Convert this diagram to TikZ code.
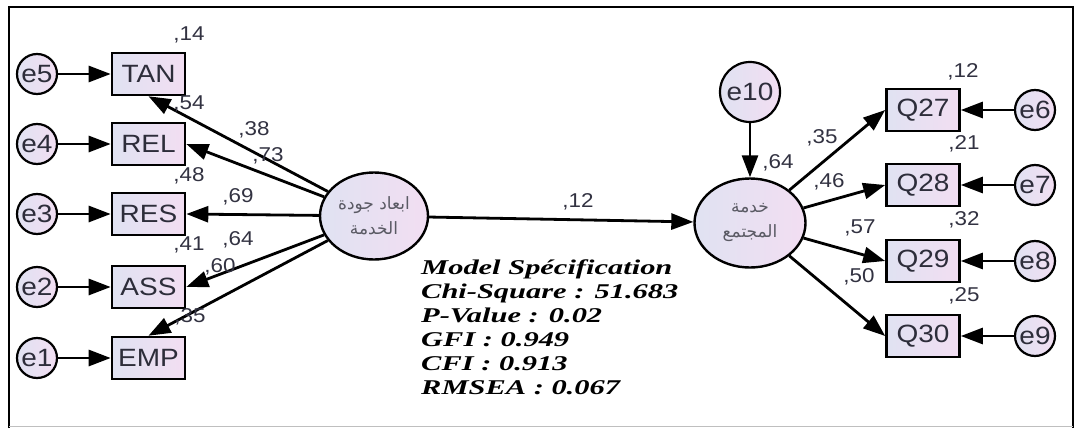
\documentclass[tikz,border=0pt]{standalone}
\usepackage{fontspec}
\setmainfont[FakeStretch=1.12]{Liberation Sans}
\newfontfamily\arabicfont[Script=Arabic]{DejaVu Sans}
\newfontfamily\modelfont[FakeStretch=1.45]{Liberation Serif}
\TeXXeTstate=1
\usetikzlibrary{arrows.meta,shapes.geometric}
\definecolor{fillA}{RGB}{224,226,242}
\definecolor{fillB}{RGB}{242,222,242}
\definecolor{txt}{RGB}{45,45,58}
\definecolor{lbl}{RGB}{50,50,65}
\definecolor{arab}{RGB}{90,90,100}
\begin{document}
\begin{tikzpicture}[x=1pt,y=-1pt,
  obs/.style={draw, line width=2.6pt, minimum width=73pt, minimum height=42pt, inner sep=0pt,
    left color=fillA, right color=fillB, font=\fontsize{25}{28}\selectfont, text=txt},
  err/.style={circle, draw, line width=2.2pt, minimum size=40pt, inner sep=0pt,
    left color=fillA, right color=fillB, font=\fontsize{25}{26}\selectfont, text=txt},
  lat/.style={ellipse, draw, line width=2.4pt, inner sep=0pt,
    left color=fillA, right color=fillB, text=arab, align=center,
    font=\arabicfont\fontsize{17}{25}\selectfont},
  arr/.style={line width=2.8pt, -{Triangle[length=22pt,width=16pt]}},
  lab/.style={font=\fontsize{20}{22}\selectfont, text=lbl, inner sep=0pt}]
\useasboundingbox (0,0) rectangle (1075,428);
% frame
\draw[line width=2pt] (9,428) -- (9,7) -- (1073,7) -- (1073,428);
\draw[line width=1.2pt, black!25] (9,426.5) -- (1073,426.5);
% error terms left
\node[err] (e5) at (37,74) {e5};
\node[err] (e4) at (37,144) {e4};
\node[err] (e3) at (37,214) {e3};
\node[err] (e2) at (37,287) {e2};
\node[err] (e1) at (37,358) {e1};
% observed left
\node[obs] (TAN) at (148.5,74) {TAN};
\node[obs] (REL) at (148.5,144) {REL};
\node[obs] (RES) at (148.5,214) {RES};
\node[obs] (ASS) at (148.5,287) {ASS};
\node[obs] (EMP) at (148.5,358) {EMP};
% latents
\node[lat, minimum width=108pt, minimum height=87pt] (L) at (374,216)
  {\beginR ابعاد جودة\endR\\\beginR الخدمة\endR};
\node[lat, minimum width=111pt, minimum height=89pt] (R) at (750,223)
  {\beginR خدمة\endR\\\beginR المجتمع\endR};
\node[err, minimum size=60pt] (e10) at (750,92) {e10};
% observed right
\node[obs] (Q27) at (923,110) {Q27};
\node[obs] (Q28) at (923,185) {Q28};
\node[obs] (Q29) at (923,261) {Q29};
\node[obs] (Q30) at (923,336) {Q30};
\node[err] (e6) at (1035,110) {e6};
\node[err] (e7) at (1035,185) {e7};
\node[err] (e8) at (1035,261) {e8};
\node[err] (e9) at (1035,336) {e9};
% arrows
\draw[arr] (e5) -- (TAN);
\draw[arr] (e4) -- (REL);
\draw[arr] (e3) -- (RES);
\draw[arr] (e2) -- (ASS);
\draw[arr] (e1) -- (EMP);
\draw[arr] (L) -- (TAN.south);
\draw[arr] (L) -- (REL.east);
\draw[arr] (L) -- (RES.east);
\draw[arr] (L) -- (ASS.east);
\draw[arr] (L) -- (EMP.north);
\draw[arr] (L) -- (R);
\draw[arr] (e10) -- (R);
\draw[arr] (R) -- (Q27.west);
\draw[arr] (R) -- (Q28.west);
\draw[arr] (R) -- (Q29.west);
\draw[arr] (R) -- (Q30.west);
\draw[arr] (e6) -- (Q27);
\draw[arr] (e7) -- (Q28);
\draw[arr] (e8) -- (Q29);
\draw[arr] (e9) -- (Q30);
% labels
\node[lab] (l14) at (189,35) {,14};
\node[lab] (l54) at (189,104) {,54};
\node[lab] (l38) at (254,130) {,38};
\node[lab] (l73) at (268,156) {,73};
\node[lab] (l48) at (189,176) {,48};
\node[lab] (l69) at (238,197) {,69};
\node[lab] (l41) at (189,245) {,41};
\node[lab] (l64a) at (238,240) {,64};
\node[lab] (l60) at (220,267) {,60};
\node[lab] (l35a) at (190,317) {,35};
\node[lab] (l12a) at (578,202) {,12};
\node[lab] (l64b) at (778,163) {,64};
\node[lab] (l35b) at (822,138) {,35};
\node[lab] (l46) at (829,182) {,46};
\node[lab] (l12b) at (963,72) {,12};
\node[lab] (l21) at (964,144) {,21};
\node[lab] (l32) at (964,220) {,32};
\node[lab] (l57) at (860,228) {,57};
\node[lab] (l50) at (859,277) {,50};
\node[lab] (l25) at (964,296) {,25};
% model text
\node[anchor=north west, align=left, inner sep=0pt, text=black,
  font=\modelfont\bfseries\itshape\fontsize{21}{24}\selectfont] (model) at (421,260)
  {Model Spécification\\Chi-Square : 51.683\\P-Value : 0.02\\GFI : 0.949\\CFI : 0.913\\RMSEA : 0.067};
\end{tikzpicture}
\end{document}
